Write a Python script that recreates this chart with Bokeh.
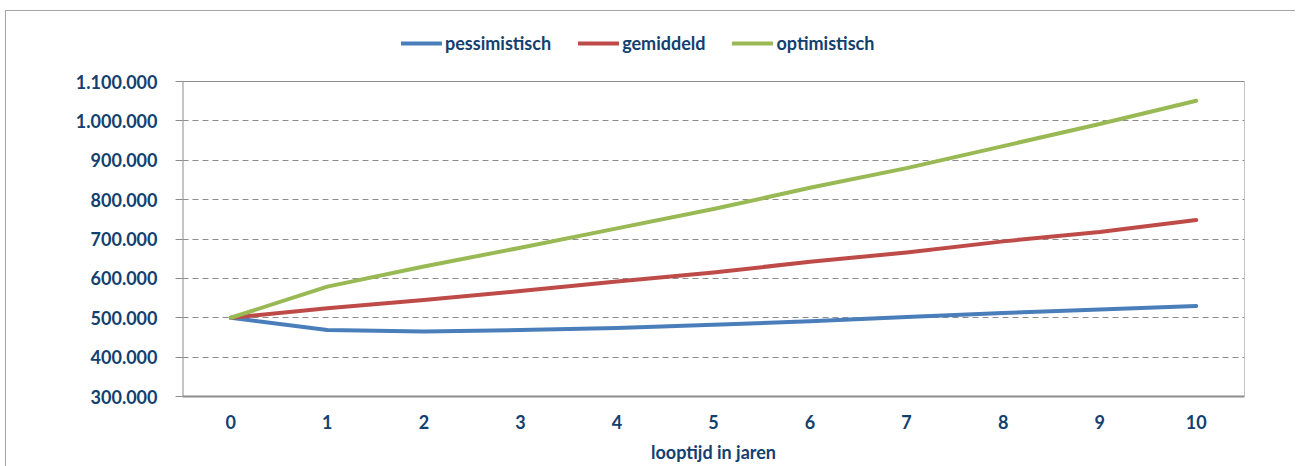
from bokeh.plotting import figure
from bokeh.models import Range1d, Legend, LegendItem
from bokeh.embed import file_html
from bokeh.resources import INLINE

years = ["0", "1", "2", "3", "4", "5", "6", "7", "8", "9", "10"]
pessimistisch = [500000, 469000, 465000, 469000, 474000, 482000, 491000, 502000, 512000, 521000, 530000]
gemiddeld = [500000, 524000, 545000, 568000, 592000, 615000, 642000, 666000, 694000, 718000, 748000]
optimistisch = [500000, 579000, 630000, 678000, 727000, 776000, 830000, 880000, 936000, 992000, 1051000]

y_ticks = [300000, 400000, 500000, 600000, 700000, 800000, 900000, 1000000, 1100000]
y_tick_labels = ["300.000", "400.000", "500.000", "600.000", "700.000", "800.000",
                 "900.000", "1.000.000", "1.100.000"]

x_title = "looptijd in jaren"

TEXT = "#12406f"
GREY = "#8c8c8c"
FRAME_GREY = "#a6a6a6"
FONT = "Lato"
FS = "18px"

W, H = 1295, 466
AREA_L, AREA_R, AREA_T, AREA_B = 182, 1244, 81, 396   # plot area in pixels
FRAME_T = 20                                          # frame extends up to hold the legend

xs = [int(v) for v in years]
x_lo, x_hi = xs[0] - 0.5, xs[-1] + 0.5
y_lo, y_hi = y_ticks[0], y_ticks[-1]
y_end = y_lo + (y_hi - y_lo) * (AREA_B - FRAME_T) / (AREA_B - AREA_T)

p = figure(width=W, height=H,
           x_range=Range1d(x_lo, x_hi),
           y_range=Range1d(y_lo, y_end),
           output_backend="svg", toolbar_location=None,
           min_border_left=AREA_L, min_border_top=FRAME_T,
           min_border_right=W - AREA_R, min_border_bottom=H - AREA_B,
           background_fill_color="white", border_fill_alpha=0)
p.styles = {
    "background": (f"linear-gradient({FRAME_GREY}, {FRAME_GREY}) 5px 10px / 100% 1px no-repeat, "
                   f"linear-gradient({FRAME_GREY}, {FRAME_GREY}) 5px 10px / 1px 100% no-repeat, white"),
}
p.outline_line_color = None

# grid
p.xgrid.visible = False
p.ygrid.ticker = y_ticks
p.ygrid.grid_line_color = GREY
p.ygrid.grid_line_dash = "6 4"
p.ygrid.grid_line_width = 1

# plot-area border (left, top, right)
p.segment(x0=[x_lo], y0=[y_lo], x1=[x_lo], y1=[y_hi], line_color=GREY, line_width=2)
p.segment(x0=[x_lo, x_hi], y0=[y_hi, y_lo], x1=[x_hi, x_hi], y1=[y_hi, y_hi],
          line_color=GREY, line_width=1)

colors = ["#4a7ebb", "#be4b48", "#98b954"]
series = [pessimistisch, gemiddeld, optimistisch]
names = ["pessimistisch", "gemiddeld", "optimistisch"]
renderers = []
for s, c in zip(series, colors):
    r = p.line(xs, s, line_color=c, line_width=4, line_cap="round", line_join="round")
    renderers.append(r)

legend = Legend(items=[LegendItem(label=n, renderers=[r]) for n, r in zip(names, renderers)],
                orientation="horizontal", location=(219, 342),
                padding=0, margin=0, spacing=27, label_standoff=3,
                glyph_width=41, glyph_height=20, label_height=20,
                border_line_color=None, background_fill_alpha=0,
                label_text_font=FONT, label_text_font_style="bold",
                label_text_font_size=FS, label_text_color=TEXT)
p.add_layout(legend)

# y axis
p.yaxis.ticker = y_ticks
p.yaxis.major_label_overrides = {t: l for t, l in zip(y_ticks, y_tick_labels)}
p.yaxis.axis_line_color = None
p.yaxis.major_tick_line_color = GREY
p.yaxis.major_tick_line_width = 1
p.yaxis.major_tick_out = 7
p.yaxis.major_tick_in = 0
p.yaxis.minor_tick_line_color = None
p.yaxis.major_label_standoff = 18
p.yaxis.major_label_text_font = FONT
p.yaxis.major_label_text_font_style = "bold"
p.yaxis.major_label_text_font_size = FS
p.yaxis.major_label_text_color = TEXT

# x axis
p.xaxis.ticker = xs
p.xaxis.major_label_overrides = {x: l for x, l in zip(xs, years)}
p.xaxis.axis_line_color = GREY
p.xaxis.axis_line_width = 2
p.xaxis.major_tick_line_color = None
p.xaxis.minor_tick_line_color = None
p.xaxis.major_tick_out = 0
p.xaxis.major_tick_in = 0
p.xaxis.major_label_standoff = 18
p.xaxis.major_label_text_font = FONT
p.xaxis.major_label_text_font_style = "bold"
p.xaxis.major_label_text_font_size = FS
p.xaxis.major_label_text_color = TEXT
p.xaxis.axis_label = x_title
p.xaxis.axis_label_standoff = 9
p.xaxis.axis_label_text_font = FONT
p.xaxis.axis_label_text_font_style = "bold"
p.xaxis.axis_label_text_font_size = FS
p.xaxis.axis_label_text_color = TEXT

open("out.html", "w").write(file_html(p, INLINE))
